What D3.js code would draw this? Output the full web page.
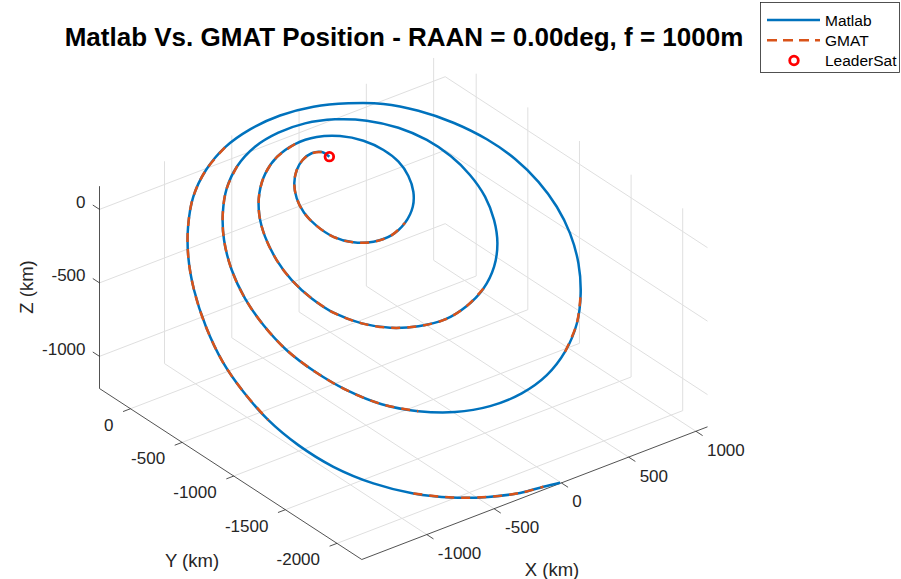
<!DOCTYPE html>
<html>
<head>
<meta charset="utf-8">
<script src="https://cdn.jsdelivr.net/npm/d3@7"></script>
<style>
  body { margin: 0; background: #fff; }
  text { font-family: "Liberation Sans", Arial, Helvetica, sans-serif; fill: #262626; }
</style>
</head>
<body>
<svg id="chart" width="901" height="579"></svg>
<script>
// trajectory (km)
var trajX = [-19, -45, -109, -189, -265, -334, -381, -397, -378, -324,
             -230, -110, 24, 153, 264, 329, 364, 365, 325, 246,
             128, -12, -168, -324, -462, -580, -669, -724, -752, -746,
             -704, -629, -514, -366, -193, -10, 172, 342, 494, 609,
             685, 728, 729, 694, 620, 504, 348, 168, -25, -219,
             -413, -596, -750, -876, -978, -1056, -1095, -1097, -1063, -986,
             -876, -729, -543, -332, -102, 135, 357, 560, 745, 891,
             1001, 1075, 1107, 1102, 1059, 974, 847, 691, 514, 311,
             93, -139, -371, -592, -796, -980, -1134, -1256, -1359, -1440,
             -1486, -1488, -1458, -1385, -1269, -1103, -910, -702, -485, -283,
             -121, -7];
var trajY = [-18, 22, 36, 19, -23, -89, -174, -266, -363, -455,
             -526, -564, -566, -527, -457, -378, -284, -187, -94, -3,
             70, 113, 120, 89, 24, -71, -187, -314, -463, -601,
             -740, -869, -977, -1058, -1108, -1127, -1100, -1040, -945, -827,
             -696, -552, -405, -264, -129, -5, 98, 170, 210, 215,
             188, 121, 23, -103, -248, -424, -603, -784, -966, -1140,
             -1303, -1450, -1563, -1643, -1683, -1680, -1634, -1546, -1419, -1266,
             -1101, -923, -753, -582, -412, -249, -91, 45, 153, 228,
             282, 303, 291, 246, 164, 47, -103, -264, -454, -675,
             -897, -1100, -1303, -1498, -1686, -1857, -1993, -2093, -2165, -2209,
             -2224, -2237];
var trajZ = [-10, 12, 20, 10, -12, -48, -95, -145, -197, -248,
             -286, -307, -308, -287, -249, -206, -154, -102, -51, -2,
             38, 61, 65, 48, 13, -39, -102, -171, -252, -327,
             -403, -473, -531, -576, -603, -613, -598, -566, -514, -450,
             -379, -300, -220, -144, -70, -3, 53, 92, 114, 117,
             102, 66, 13, -56, -135, -231, -328, -426, -526, -620,
             -709, -789, -850, -894, -916, -914, -889, -841, -772, -689,
             -599, -502, -410, -317, -224, -135, -50, 24, 83, 124,
             153, 165, 158, 134, 89, 26, -56, -144, -247, -367,
             -488, -598, -709, -815, -917, -1010, -1084, -1139, -1178, -1202,
             -1210, -1217];
// GMAT lies on top of the Matlab track; these index spans are where its dashes show through
var gmatShown = [[1, 13], [22, 37], [51, 62], [67, 69], [83, 92], [96, 100]];
var leaderSat = [-19, -18, -10];

var xLim = [-1483, 1086], yLim = [-2240, 300], zLim = [-1219, 158];
var xTicks = [-1000, -500, 0, 500, 1000];
var yTicks = [-2000, -1500, -1000, -500, 0];
var zTicks = [-1000, -500, 0];

var blue = "#0072BD", orange = "#D95319";
var svg = d3.select("#chart");

// matlab default 3d view, axis equal
var rad = Math.PI / 180, az = -37.5 * rad, el = 30 * rad;
function viewX(x, y, z) { return Math.cos(az) * x + Math.sin(az) * y; }
function viewU(x, y, z) { return -Math.sin(el) * Math.sin(az) * x + Math.sin(el) * Math.cos(az) * y + Math.cos(el) * z; }

var corners = [];
xLim.forEach(function(x){ yLim.forEach(function(y){ zLim.forEach(function(z){ corners.push([x, y, z]); }); }); });
var sx = d3.scaleLinear().domain(d3.extent(corners, c => viewX(c[0], c[1], c[2]))).range([99.5, 707.5]);
var sy = d3.scaleLinear().domain(d3.extent(corners, c => viewU(c[0], c[1], c[2]))).range([559.5, 53.5]);
function P(x, y, z) { return [sx(viewX(x, y, z)), sy(viewU(x, y, z))]; }

// grid on the three back planes
var grid = [];
xTicks.forEach(function(x){
    grid.push([P(x, yLim[0], zLim[0]), P(x, yLim[1], zLim[0])]);
    grid.push([P(x, yLim[1], zLim[0]), P(x, yLim[1], zLim[1])]);
});
yTicks.forEach(function(y){
    grid.push([P(xLim[0], y, zLim[0]), P(xLim[1], y, zLim[0])]);
    grid.push([P(xLim[1], y, zLim[0]), P(xLim[1], y, zLim[1])]);
});
zTicks.forEach(function(z){
    grid.push([P(xLim[0], yLim[1], z), P(xLim[1], yLim[1], z)]);
    grid.push([P(xLim[1], yLim[0], z), P(xLim[1], yLim[1], z)]);
});
svg.append("g").selectAll("line")
    .data(grid)
    .enter().append("line")
    .attr("x1", d => d[0][0]).attr("y1", d => d[0][1])
    .attr("x2", d => d[1][0]).attr("y2", d => d[1][1])
    .attr("stroke", "#dfdfdf")
    .attr("stroke-width", 1);

// axis lines + ticks
var axes = [
    [P(xLim[0], yLim[0], zLim[0]), P(xLim[1], yLim[0], zLim[0])],
    [P(xLim[0], yLim[0], zLim[0]), P(xLim[0], yLim[1], zLim[0])],
    [P(xLim[0], yLim[1], zLim[0]), P(xLim[0], yLim[1], zLim[1])]
];
xTicks.forEach(x => axes.push([P(x, yLim[0], zLim[0]), P(x, yLim[0] - 65, zLim[0])]));
yTicks.forEach(y => axes.push([P(xLim[0], y, zLim[0]), P(xLim[0] - 55, y, zLim[0])]));
zTicks.forEach(z => axes.push([P(xLim[0], yLim[1], z), P(xLim[0], yLim[1] + 65, z)]));
svg.append("g").selectAll("line")
    .data(axes)
    .enter().append("line")
    .attr("x1", d => d[0][0]).attr("y1", d => d[0][1])
    .attr("x2", d => d[1][0]).attr("y2", d => d[1][1])
    .attr("stroke", "#262626")
    .attr("stroke-width", 0.8);

var tickFont = "17px";
svg.append("g").selectAll("text")
    .data(xTicks)
    .enter().append("text")
    .attr("x", d => P(d, yLim[0], zLim[0])[0] + 11)
    .attr("y", d => P(d, yLim[0], zLim[0])[1] + 19)
    .attr("dominant-baseline", "central")
    .style("font-size", tickFont)
    .text(d => d);
svg.append("g").selectAll("text")
    .data(yTicks)
    .enter().append("text")
    .attr("x", d => P(xLim[0], d, zLim[0])[0] - 17)
    .attr("y", d => P(xLim[0], d, zLim[0])[1] + 16.5)
    .attr("text-anchor", "end")
    .attr("dominant-baseline", "central")
    .style("font-size", tickFont)
    .text(d => d);
svg.append("g").selectAll("text")
    .data(zTicks)
    .enter().append("text")
    .attr("x", d => P(xLim[0], yLim[1], d)[0] - 14)
    .attr("y", d => P(xLim[0], yLim[1], d)[1] - 7)
    .attr("text-anchor", "end")
    .attr("dominant-baseline", "central")
    .style("font-size", tickFont)
    .text(d => d);

// axis titles
svg.append("text").attr("x", 552).attr("y", 569).attr("text-anchor", "middle")
    .attr("dominant-baseline", "central").style("font-size", "18.5px").text("X (km)");
svg.append("text").attr("x", 192).attr("y", 560).attr("text-anchor", "middle")
    .attr("dominant-baseline", "central").style("font-size", "18.5px").text("Y (km)");
svg.append("text").attr("transform", "translate(26,287) rotate(-90)").attr("text-anchor", "middle")
    .attr("dominant-baseline", "central").style("font-size", "18.5px").text("Z (km)");

// title
svg.append("text").attr("x", 404).attr("y", 37).attr("text-anchor", "middle")
    .attr("dominant-baseline", "central")
    .style("font-size", "26px").style("font-weight", "bold").style("fill", "#000")
    .text("Matlab Vs. GMAT Position - RAAN = 0.00deg, f = 1000m");

// trajectories
var idx = d3.range(trajX.length);
var line = d3.line()
    .x(i => P(trajX[i], trajY[i], trajZ[i])[0])
    .y(i => P(trajX[i], trajY[i], trajZ[i])[1])
    .curve(d3.curveCatmullRom.alpha(0.5));

svg.append("path")
    .datum(idx)
    .attr("d", line)
    .attr("fill", "none")
    .attr("stroke", blue)
    .attr("stroke-width", 2.5);

svg.append("g").selectAll("path")
    .data(gmatShown)
    .enter().append("path")
    .attr("d", r => line(d3.range(r[0], r[1] + 1)))
    .attr("fill", "none")
    .attr("stroke", orange)
    .attr("stroke-width", 2.5)
    .attr("stroke-dasharray", "9,7");

var lp = P(leaderSat[0], leaderSat[1], leaderSat[2]);
svg.append("circle")
    .attr("cx", lp[0]).attr("cy", lp[1]).attr("r", 4.3)
    .attr("fill", "none").attr("stroke", "#ff0000").attr("stroke-width", 2.8);

// legend
var legendItems = ["Matlab", "GMAT", "LeaderSat"];
var legend = svg.append("g");
legend.append("rect").attr("x", 760.5).attr("y", 2.5).attr("width", 139).attr("height", 70)
    .attr("fill", "#fff").attr("stroke", "#262626").attr("stroke-width", 0.8);
var ly = d3.scalePoint().domain(legendItems).range([20, 60.5]);
legend.append("line").attr("x1", 767).attr("x2", 820).attr("y1", ly("Matlab")).attr("y2", ly("Matlab"))
    .attr("stroke", blue).attr("stroke-width", 2.5);
legend.append("line").attr("x1", 767).attr("x2", 820).attr("y1", ly("GMAT")).attr("y2", ly("GMAT"))
    .attr("stroke", orange).attr("stroke-width", 2.5).attr("stroke-dasharray", "10,6");
legend.append("circle").attr("cx", 794).attr("cy", ly("LeaderSat")).attr("r", 4.3)
    .attr("fill", "none").attr("stroke", "#ff0000").attr("stroke-width", 2.8);
legend.selectAll("text.lab")
    .data(legendItems)
    .enter().append("text")
    .attr("class", "lab")
    .attr("x", 825)
    .attr("y", d => ly(d))
    .attr("dominant-baseline", "central")
    .style("font-size", "15.5px")
    .style("fill", "#000")
    .text(d => d);
</script>
</body>
</html>
